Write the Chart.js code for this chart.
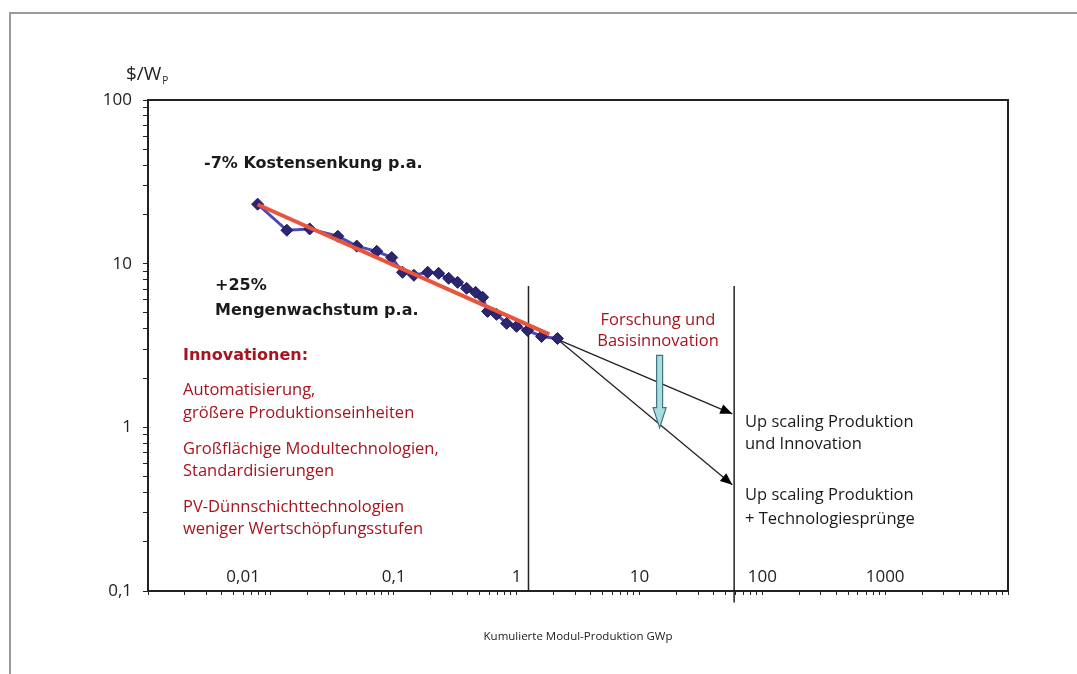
<!DOCTYPE html>
<html>
<head>
<meta charset="utf-8">
<script src="https://cdn.jsdelivr.net/npm/chart.js@4/dist/chart.umd.min.js"></script>
<style>
  body { margin: 0; background: #fff; }
  canvas { display: block; }
</style>
</head>
<body>
<canvas id="myChart" width="1077" height="674"></canvas>
<script>
// Lernkurve Photovoltaik-Module (log/log)

// Kumulierte Produktion (GWp) und Modulpreis ($/Wp)
const prodGWp = [0.0078, 0.0135, 0.0207, 0.0351, 0.050, 0.0728, 0.0964, 0.118, 0.146, 0.189, 0.232, 0.280,
  0.331, 0.392, 0.464, 0.530, 0.581, 0.687, 0.830, 1.0, 1.23, 1.60, 2.15];
const pricePerWp = [23.1, 16.0, 16.3, 14.7, 12.8, 11.9, 10.9, 8.86, 8.49, 8.86, 8.73, 8.14,
  7.69, 7.07, 6.68, 6.23, 5.11, 4.90, 4.32, 4.14, 3.91, 3.59, 3.49];

// Trendlinie -7% p.a.
const trendX = [0.0078, 1.85];
const trendY = [23.0, 3.7];

// Szenarien (Pfeile)
const scenarioX = [2.15, 57];
const scenarioInnovY = [3.45, 1.21];
const scenarioTechY = [3.45, 0.446];

// senkrechte Markierungen
const markerX = [1.25, 59];
const markerTopY = [7.3, 7.3];
const markerBottomY = [0.1, 0.085];

// Pfeil "Forschung und Basisinnovation"
const researchX = 14.6;
const researchY = [2.75, 0.995];

// Achsen
const xLabelValues = [0.01, 0.1, 1, 10, 100, 1000];
const xLabelTexts = ["0,01", "0,1", "1", "10", "100", "1000"];
const xDecades = [0.001, 0.01, 0.1, 1, 10, 100, 1000];
const yLabelValues = [0.1, 1, 10, 100];
const yLabelTexts = ["0,1", "1", "10", "100"];
const yDecades = [0.1, 1, 10];

function logTicks(decades, last) {
  const out = [];
  decades.forEach(d => {
    for (let k = 1; k <= 9; k++) out.push(Number((k * d).toPrecision(6)));
  });
  out.push(last);
  return out;
}
const xTickValues = logTicks(xDecades, 10000);
const yTickValues = logTicks(yDecades, 100);

function labelFor(v, values, texts) {
  const i = values.findIndex(lv => Math.abs(Math.log10(v) - Math.log10(lv)) < 1e-6);
  return i >= 0 ? texts[i] : "";
}

const pts = (xs, ys) => xs.map((x, i) => ({ x: x, y: ys[i] }));

const FONT = "'Open Sans'";
const BOLD = "'DejaVu Sans'";
const RED = "#a8141e";

const data = {
  datasets: [
    {
      label: "Trend",
      data: pts(trendX, trendY),
      showLine: true,
      borderColor: "#e8543c",
      borderWidth: 4,
      pointRadius: 0,
      order: 0,
    },
    {
      label: "Modulpreis",
      data: pts(prodGWp, pricePerWp),
      showLine: true,
      borderColor: "#4d49b8",
      borderWidth: 3,
      pointStyle: "rectRot",
      pointRadius: 6,
      pointBackgroundColor: "#2c2670",
      pointBorderColor: "#1c1858",
      pointBorderWidth: 1,
      order: 1,
    },
    {
      label: "Innovation",
      data: pts(scenarioX, scenarioInnovY),
      showLine: true,
      borderColor: "#222",
      borderWidth: 1.3,
      pointRadius: 0,
      arrow: true,
      order: 2,
    },
    {
      label: "Technologie",
      data: pts(scenarioX, scenarioTechY),
      showLine: true,
      borderColor: "#222",
      borderWidth: 1.3,
      pointRadius: 0,
      arrow: true,
      order: 2,
    },
    {
      label: "Marker 1",
      data: [{ x: markerX[0], y: markerTopY[0] }, { x: markerX[0], y: markerBottomY[0] }],
      showLine: true,
      borderColor: "#222",
      borderWidth: 1.5,
      pointRadius: 0,
      clip: false,
      order: 3,
    },
    {
      label: "Marker 2",
      data: [{ x: markerX[1], y: markerTopY[1] }, { x: markerX[1], y: markerBottomY[1] }],
      showLine: true,
      borderColor: "#222",
      borderWidth: 1.5,
      pointRadius: 0,
      clip: false,
      order: 3,
    },
  ]
};

// Texte, Rahmen und Pfeilspitzen
const extras = {
  id: "extras",
  beforeDraw(chart) {
    const ctx = chart.ctx;
    ctx.save();
    ctx.strokeStyle = "#9a9a9a";
    ctx.lineWidth = 2;
    ctx.beginPath();
    ctx.moveTo(10, 674);
    ctx.lineTo(10, 13);
    ctx.lineTo(1077, 13);
    ctx.stroke();
    ctx.restore();
  },
  afterDraw(chart) {
    const ctx = chart.ctx;
    const a = chart.chartArea;
    const xs = chart.scales.x, ys = chart.scales.y;
    ctx.save();

    // Rahmen oben und rechts
    ctx.strokeStyle = "#222";
    ctx.lineWidth = 2;
    ctx.beginPath();
    ctx.moveTo(a.left, a.top);
    ctx.lineTo(a.right, a.top);
    ctx.lineTo(a.right, a.bottom);
    ctx.stroke();

    // Pfeilspitzen
    chart.data.datasets.forEach((ds, i) => {
      if (!ds.arrow) return;
      const pe = chart.getDatasetMeta(i).data;
      const p0 = pe[pe.length - 2], p1 = pe[pe.length - 1];
      const ang = Math.atan2(p1.y - p0.y, p1.x - p0.x);
      ctx.save();
      ctx.translate(p1.x, p1.y);
      ctx.rotate(ang);
      ctx.fillStyle = "#000";
      ctx.beginPath();
      ctx.moveTo(0, 0);
      ctx.lineTo(-12, -5);
      ctx.lineTo(-12, 5);
      ctx.closePath();
      ctx.fill();
      ctx.restore();
    });

    // hellblauer Pfeil
    const bx = xs.getPixelForValue(researchX);
    const by0 = ys.getPixelForValue(researchY[0]);
    const by1 = ys.getPixelForValue(researchY[1]);
    ctx.fillStyle = "#aadde0";
    ctx.strokeStyle = "#3f7580";
    ctx.lineWidth = 1.2;
    ctx.beginPath();
    ctx.moveTo(bx - 3, by0);
    ctx.lineTo(bx + 3, by0);
    ctx.lineTo(bx + 3, by1 - 20);
    ctx.lineTo(bx + 6.5, by1 - 20);
    ctx.lineTo(bx, by1);
    ctx.lineTo(bx - 6.5, by1 - 20);
    ctx.lineTo(bx - 3, by1 - 20);
    ctx.closePath();
    ctx.fill();
    ctx.stroke();

    // Einheit
    ctx.textBaseline = "alphabetic";
    ctx.textAlign = "left";
    ctx.fillStyle = "#222";
    ctx.font = "19px " + FONT;
    ctx.fillText("$/W", 126, 80);
    const uw = ctx.measureText("$/W").width;
    ctx.font = "10px " + FONT;
    ctx.fillText("P", 126 + uw + 1, 84);

    ctx.fillStyle = "#1a1a1a";
    ctx.font = "bold 16px " + BOLD;
    ctx.fillText("-7% Kostensenkung p.a.", 204, 168);
    ctx.fillText("+25%", 215, 290);
    ctx.fillText("Mengenwachstum p.a.", 215, 315);

    ctx.fillStyle = RED;
    ctx.fillText("Innovationen:", 183, 360);
    ctx.font = "16.5px " + FONT;
    const redLines = [
      ["Automatisierung,", 395],
      ["größere Produktionseinheiten", 418],
      ["Großflächige Modultechnologien,", 454],
      ["Standardisierungen", 476],
      ["PV-Dünnschichttechnologien", 512],
      ["weniger Wertschöpfungsstufen", 534],
    ];
    redLines.forEach(([t, y]) => ctx.fillText(t, 183, y));

    ctx.textAlign = "center";
    ctx.fillText("Forschung und", 658, 325);
    ctx.fillText("Basisinnovation", 658, 346);

    ctx.textAlign = "left";
    ctx.fillStyle = "#1a1a1a";
    ctx.fillText("Up scaling Produktion", 745, 427);
    ctx.fillText("und Innovation", 745, 449);
    ctx.fillText("Up scaling Produktion", 745, 500);
    ctx.fillText("+ Technologiesprünge", 745, 524);
    ctx.restore();
  }
};

const config = {
  type: "scatter",
  data: data,
  options: {
    responsive: false,
    animation: false,
    layout: {
      padding: { top: 100, right: 69, left: 0, bottom: 0 }
    },
    scales: {
      x: {
        type: "logarithmic",
        position: "bottom",
        min: 0.001,
        max: 10000,
        afterBuildTicks: s => { s.ticks = xTickValues.map(v => ({ value: v })); },
        afterFit: s => { s.height = 83; },
        grid: {
          drawOnChartArea: false,
          drawTicks: true,
          tickLength: 4,
          color: "#222",
          lineWidth: 1,
        },
        border: { display: true, color: "#222", width: 2 },
        ticks: {
          autoSkip: false,
          maxRotation: 0,
          mirror: true,
          padding: 4,
          color: "#222",
          font: { family: "Open Sans", size: 17 },
          callback: v => {
            const t = labelFor(v, xLabelValues, xLabelTexts);
            // "0,01" steht im Original deutlich links vom Teilstrich
            return t === "0,01" ? t + "\u2003\u2003\u2003 " : t;
          },
        },
        title: {
          display: true,
          text: "Kumulierte Modul-Produktion GWp",
          color: "#222",
          font: { family: "Open Sans", size: 11.5 },
          padding: { top: 0, bottom: 30 },
        },
      },
      y: {
        type: "logarithmic",
        position: "left",
        min: 0.1,
        max: 100,
        afterBuildTicks: s => { s.ticks = yTickValues.map(v => ({ value: v })); },
        afterFit: s => { s.width = 148; },
        grid: {
          drawOnChartArea: false,
          drawTicks: true,
          tickLength: 5,
          color: "#222",
          lineWidth: 1,
        },
        border: { display: true, color: "#222", width: 2 },
        ticks: {
          autoSkip: false,
          padding: 11,
          color: "#222",
          font: { family: "Open Sans", size: 17 },
          callback: v => labelFor(v, yLabelValues, yLabelTexts),
        },
      },
    },
    plugins: {
      legend: { display: false },
      tooltip: { enabled: false },
    },
  },
  plugins: [extras],
};

var ctx = document.getElementById("myChart").getContext("2d");
var myChart = new Chart(ctx, config);
</script>
</body>
</html>
